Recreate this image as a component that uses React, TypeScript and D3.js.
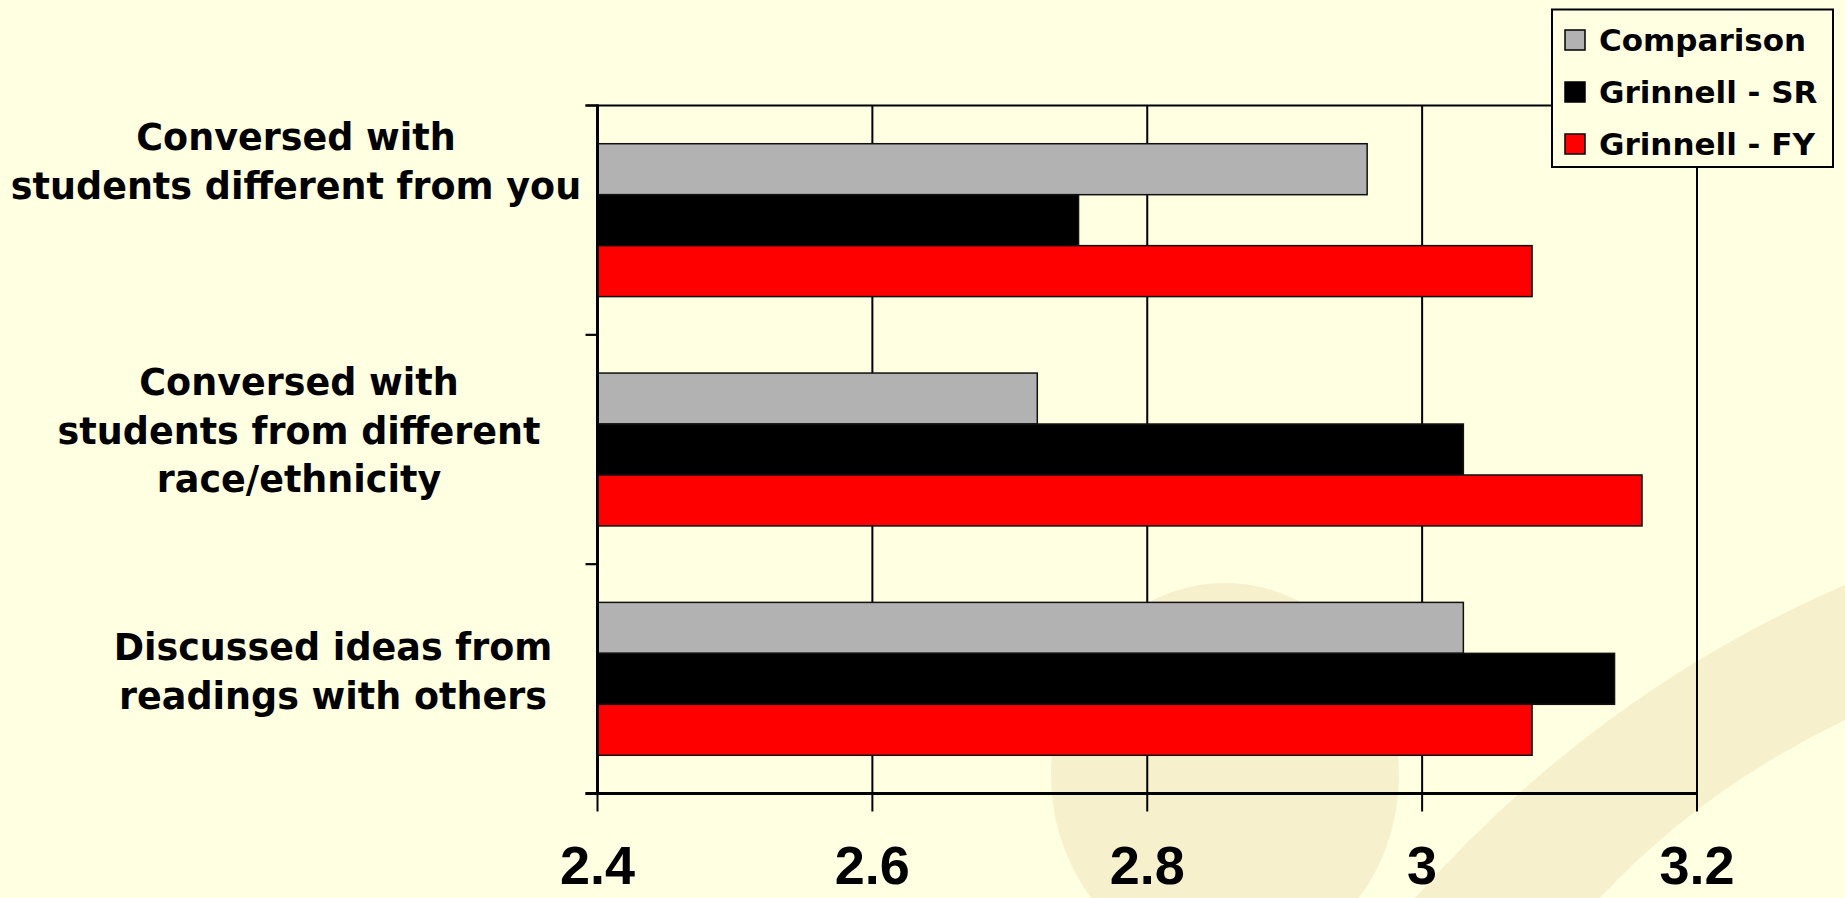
import React, { useEffect } from 'react';
import * as d3 from 'd3';

// ---- data ----
const categories = [
  'Conversed with students different from you',
  'Conversed with students from different race/ethnicity',
  'Discussed ideas from readings with others',
];
const categoryLines = [
  ['Conversed with', 'students different from you'],
  ['Conversed with', 'students from different', 'race/ethnicity'],
  ['Discussed ideas from', 'readings with others'],
];
const seriesNames = ['Comparison', 'Grinnell - SR', 'Grinnell - FY'];
const comparison = [2.96, 2.72, 3.03];
const grinnellSR = [2.75, 3.03, 3.14];
const grinnellFY = [3.08, 3.16, 3.08];
const xTicks = [2.4, 2.6, 2.8, 3.0, 3.2];
const xTickLabels = ['2.4', '2.6', '2.8', '3', '3.2'];
const seriesColors = ['#B2B2B2', '#000000', '#FF0000'];

const W = 1845;
const H = 898;
const plot = { left: 597.5, right: 1697, top: 105.5, bottom: 793.5 };
const labelCenterX = [296, 299, 333];
const labelFirstBaseline = [150, 395, 660];
const lineHeight = 48.5;
const BG = '#FFFFE1';
const WM = '#F6F0CD';

export default function App() {
  useEffect(() => {
    document.body.style.margin = '0';
  }, []);

  const seriesValues = [comparison, grinnellSR, grinnellFY];
  const x = d3.scaleLinear().domain([2.4, 3.2]).range([plot.left, plot.right]);
  const y0 = d3.scaleBand<string>().domain(categories).range([plot.top, plot.bottom]).padding(0);
  const y1 = d3
    .scaleBand<string>()
    .domain(seriesNames)
    .range([0, y0.bandwidth()])
    .paddingInner(0)
    .paddingOuter(0.75);

  const bandEdges = categories.map((c) => y0(c) as number).concat([plot.bottom]);

  const swoosh = d3.path();
  swoosh.moveTo(1415, H);
  swoosh.quadraticCurveTo(1600, 690, 1845, 585);
  swoosh.lineTo(1845, 720);
  swoosh.quadraticCurveTo(1700, 790, 1600, H);
  swoosh.closePath();

  const font = "'DejaVu Sans', Verdana, sans-serif";

  return (
    <svg
      width={W}
      height={H}
      style={{ position: 'absolute', left: 0, top: 0, display: 'block' }}
      xmlns="http://www.w3.org/2000/svg"
    >
      <rect x={0} y={0} width={W} height={H} fill={BG} />
      {/* watermark */}
      <ellipse cx={1225} cy={775} rx={174} ry={192} fill={WM} />
      <path d={swoosh.toString()} fill={WM} />

      {/* gridlines */}
      {xTicks.map((t) => (
        <line key={'g' + t} x1={x(t)} x2={x(t)} y1={plot.top} y2={plot.bottom} stroke="#000" strokeWidth={2} />
      ))}
      {/* top border */}
      <line x1={plot.left - 12} x2={plot.right} y1={plot.top} y2={plot.top} stroke="#000" strokeWidth={2.2} />

      {/* bars */}
      {seriesNames.map((s, si) =>
        categories.map((c, ci) => {
          const yy = (y0(c) as number) + (y1(s) as number);
          return (
            <rect
              key={s + c}
              x={x(2.4)}
              y={yy}
              width={x(seriesValues[si][ci]) - x(2.4)}
              height={y1.bandwidth()}
              fill={seriesColors[si]}
              stroke="#111"
              strokeWidth={1.5}
            />
          );
        })
      )}

      {/* left axis */}
      <line x1={plot.left} x2={plot.left} y1={plot.top - 1} y2={plot.bottom + 1} stroke="#000" strokeWidth={3} />
      {bandEdges.map((e, i) => (
        <line key={'lt' + i} x1={plot.left - 12} x2={plot.left} y1={e} y2={e} stroke="#000" strokeWidth={2.2} />
      ))}
      {/* bottom axis */}
      <line x1={plot.left - 12} x2={plot.right + 1} y1={plot.bottom} y2={plot.bottom} stroke="#000" strokeWidth={3} />
      {xTicks.map((t) => (
        <line key={'bt' + t} x1={x(t)} x2={x(t)} y1={plot.bottom} y2={plot.bottom + 18} stroke="#000" strokeWidth={2} />
      ))}

      {/* x tick labels */}
      {xTicks.map((t, i) => (
        <text
          key={'tl' + t}
          x={x(t)}
          y={884}
          textAnchor="middle"
          fontFamily="'Liberation Sans', Arial, sans-serif"
          fontWeight="bold"
          fontSize={54}
          fill="#000"
        >
          {xTickLabels[i]}
        </text>
      ))}

      {/* category labels */}
      {categoryLines.map((lines, ci) => (
        <text
          key={'cl' + ci}
          textAnchor="middle"
          fontFamily={font}
          fontWeight="bold"
          fontSize={36.5}
          fill="#000"
        >
          {lines.map((ln, li) => (
            <tspan key={li} x={labelCenterX[ci]} y={labelFirstBaseline[ci] + li * lineHeight}>
              {ln}
            </tspan>
          ))}
        </text>
      ))}

      {/* legend */}
      <rect x={1552} y={9.5} width={281} height={157.5} fill={BG} stroke="#000" strokeWidth={2} />
      {seriesNames.map((s, i) => {
        const cy = 40 + i * 52;
        return (
          <g key={'lg' + s}>
            <rect x={1565} y={cy - 10} width={20} height={20} fill={seriesColors[i]} stroke="#000" strokeWidth={1.5} />
            <text x={1599} y={cy + 11} fontFamily={font} fontWeight="bold" fontSize={31} fill="#000">
              {s}
            </text>
          </g>
        );
      })}
    </svg>
  );
}
